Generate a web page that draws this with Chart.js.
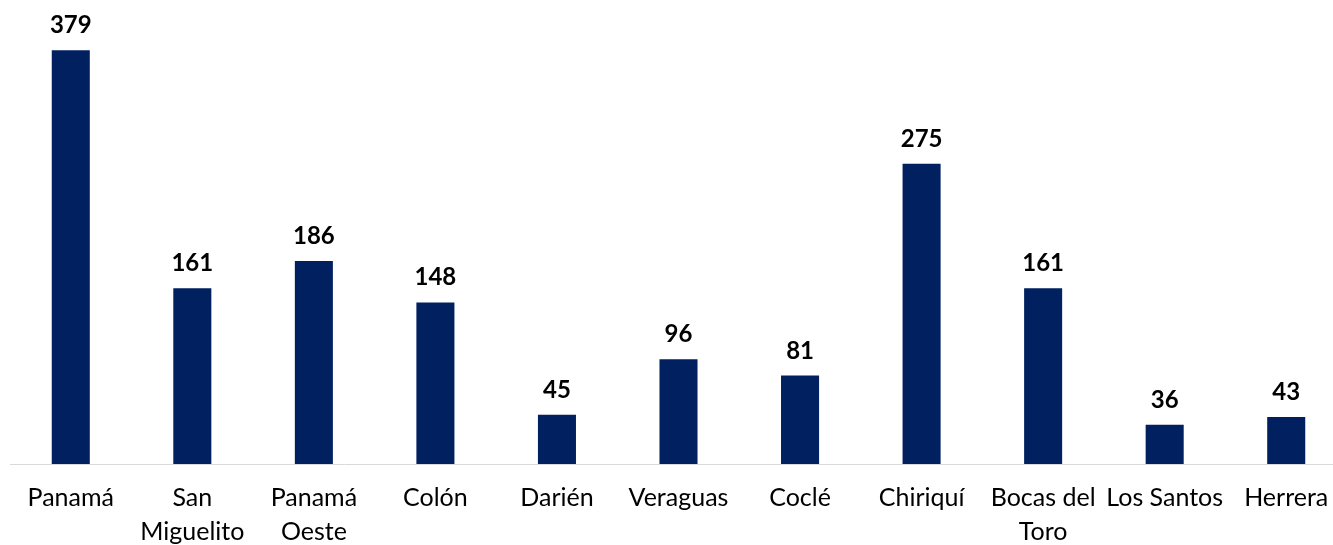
<!DOCTYPE html>
<html>
<head>
<meta charset="utf-8">
<script src="https://cdn.jsdelivr.net/npm/chart.js@4/dist/chart.umd.min.js"></script>
<style>
  html, body { margin: 0; padding: 0; background: #ffffff; overflow: hidden; }
  #wrap { width: 1347px; height: 545px; }
</style>
</head>
<body>
<div id="wrap"><canvas id="c" width="1347" height="545"></canvas></div>
<script>
const categories = ["Panamá", ["San", "Miguelito"], ["Panamá", "Oeste"], "Colón", "Darién", "Veraguas", "Coclé", "Chiriquí", ["Bocas del", "Toro"], "Los Santos", "Herrera"];
const values = [379, 161, 186, 148, 45, 96, 81, 275, 161, 36, 43];

const FONT = "Lato, 'Open Sans', sans-serif";

const dataLabels = {
  id: 'dataLabels',
  afterDatasetsDraw(chart) {
    const ctx = chart.ctx;
    const meta = chart.getDatasetMeta(0);
    ctx.save();
    ctx.font = "bold 24px " + FONT;
    ctx.fillStyle = "#000000";
    ctx.textAlign = "center";
    ctx.textBaseline = "alphabetic";
    meta.data.forEach((bar, i) => {
      ctx.fillText(String(chart.data.datasets[0].data[i]), bar.x, bar.y - 17);
    });
    ctx.restore();
  }
};

new Chart(document.getElementById('c'), {
  type: 'bar',
  data: {
    labels: categories,
    datasets: [{
      data: values,
      backgroundColor: '#002060',
      borderWidth: 0,
      barPercentage: 0.313,
      categoryPercentage: 1.0
    }]
  },
  options: {
    responsive: false,
    animation: false,
    layout: { padding: { left: 10, right: 0, top: 0, bottom: 0 } },
    plugins: { legend: { display: false }, tooltip: { enabled: false } },
    scales: {
      x: {
        offset: true,
        grid: { display: false, drawTicks: false },
        border: { display: true, color: '#d9d9d9', width: 1 },
        ticks: {
          color: '#000000',
          font: { family: FONT, size: 25, lineHeight: 1.36 },
          padding: 17,
          maxRotation: 0,
          autoSkip: false
        },
        afterFit(scale) { scale.height = 81; }
      },
      y: {
        display: false,
        min: 0,
        max: 425
      }
    }
  },
  plugins: [dataLabels]
});
</script>
</body>
</html>
